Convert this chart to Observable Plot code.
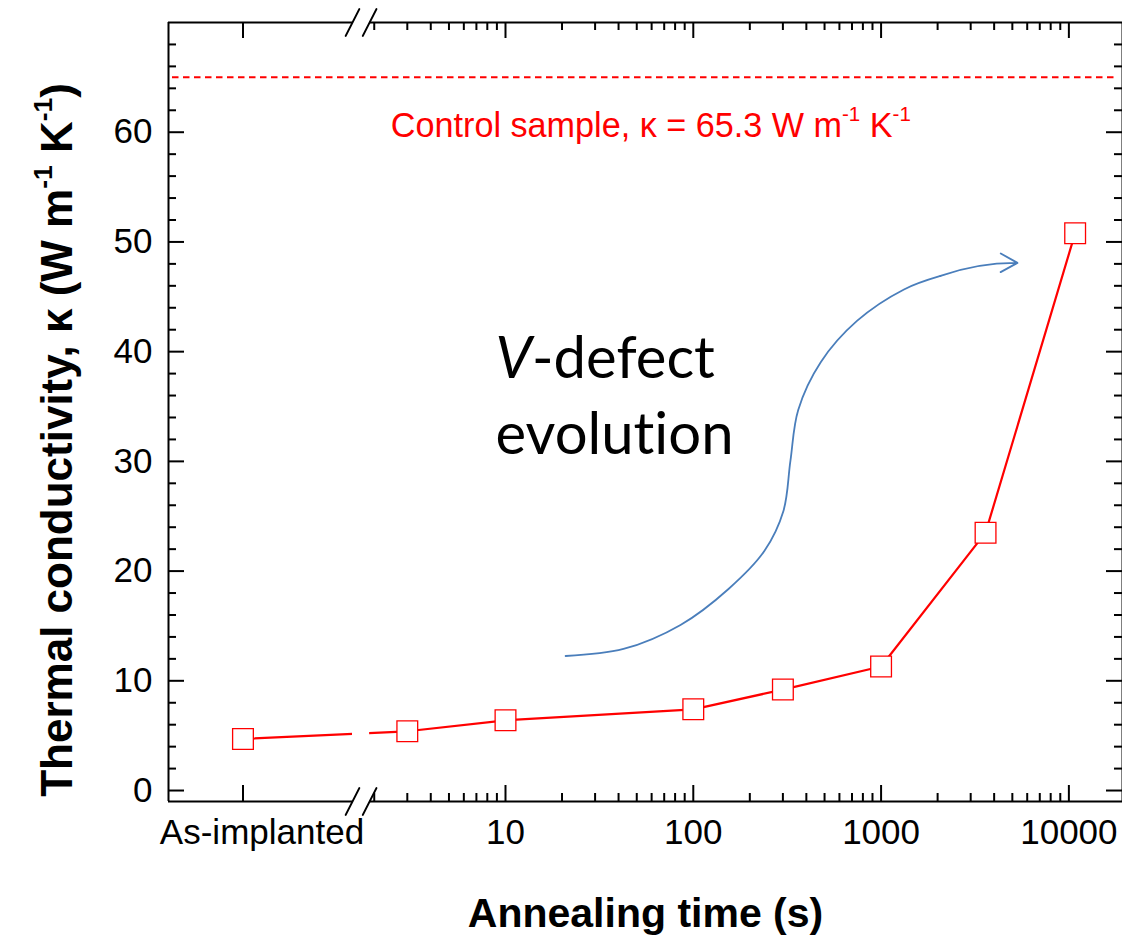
<!DOCTYPE html>
<html><head><meta charset="utf-8">
<script src="https://cdn.jsdelivr.net/npm/d3@7"></script>
<script src="https://cdn.jsdelivr.net/npm/@observablehq/plot@0.6"></script>
<style>html,body{margin:0;padding:0;background:#fff;overflow:hidden} text{font-variant-ligatures:none;font-feature-settings:"liga" 0}</style>
</head><body><div id="chart"></div>
<script>
// ---- data ----
const sampleLabels = ["As-implanted", "3 s", "10 s", "100 s", "300 s", "1000 s", "3600 s", "10800 s"];
const annealTime = [0.4, 3, 10, 100, 300, 1000, 3600, 10800]; // 0.4 = nominal slot for "As-implanted"
const kappa = [4.7, 5.4, 6.4, 7.4, 9.2, 11.3, 23.5, 50.8];
const controlKappa = 65.0;
const controlLabel = "Control sample, κ = 65.3 W m^{-1} K^{-1}";

const xMajorTicks = [0.4, 10, 100, 1000, 10000];
const xTickLabels = ["As-implanted", "10", "100", "1000", "10000"];
const yMajorTicks = [0, 10, 20, 30, 40, 50, 60];
const xDomain = [0.1605, 19300];
const yDomain = [-1, 70];
const axisBreak = [1.532, 1.89];

// guide arrow (hand-drawn annotation path)
const arrowTime = [20.9, 42.5, 85.5, 154, 239, 302, 329, 362, 478, 744, 1324, 2072];
const arrowKappa = [12.26, 12.90, 15.09, 18.37, 21.83, 25.48, 30.04, 34.69, 39.06, 42.80, 45.67, 46.90];
const arrowTip = {t1: 2072, k1: 46.90, t2: 5325, k2: 48.09};

const xTitle = "Annealing time (s)";
const yTitle = "Thermal conductivity, κ (W m^{-1} K^{-1})";

// ---- derived tables ----
const points = annealTime.map((t, i) => ({t, k: kappa[i], label: sampleLabels[i]}));
const xMinorTicks = [];
for (const dec of [1, 10, 100, 1000]) for (let m = 2; m <= 9; m++) xMinorTicks.push(m * dec);
const yMinorTicks = [];
for (let v = 2; v < 70; v += 2) if (v % 10 !== 0) yMinorTicks.push(v);
const arrowPts = arrowTime.map((t, i) => ({t, k: arrowKappa[i]}));
const xLabelRows = xMajorTicks.map((t, i) => ({t, label: xTickLabels[i]}));

const frameH = 936 - 22 - 135, frameW = 1122 - 168;
const majorLen = 16, minorLen = 8;
const spineSegs = [
  {x1: xDomain[0], x2: axisBreak[0], y: yDomain[0]},
  {x1: axisBreak[1], x2: xDomain[1], y: yDomain[0]},
  {x1: xDomain[0], x2: axisBreak[0], y: yDomain[1]},
  {x1: axisBreak[1], x2: xDomain[1], y: yDomain[1]}
];
const slashes = [];
for (const y of yDomain) for (const t of axisBreak) slashes.push({t, y});
const slashShape = {draw(ctx, l) { ctx.moveTo(0, l / 2); ctx.lineTo(0, -l / 2); }};

const red = "#ff0000", blue = "#4a7ebb";
const font = "'Liberation Sans', Arial, Helvetica, sans-serif";

const chart = Plot.plot({
  width: 1122, height: 936,
  marginLeft: 168, marginRight: 0, marginTop: 22, marginBottom: 135,
  x: {type: "log", domain: xDomain, axis: null},
  y: {domain: yDomain, axis: null},
  style: {background: "white", fontFamily: font, overflow: "visible"},
  marks: [
    // control sample
    Plot.ruleY([controlKappa], {y: d => d, stroke: red, strokeWidth: 2, strokeDasharray: "6.5,4.5", insetLeft: 4, insetRight: 6}),
    Plot.text([controlLabel], {x: 2.45, y: 59.6, text: d => d, fill: red, fontSize: 34.2, textAnchor: "start", lineAnchor: "bottom"}),
    // annotation
    Plot.text(["_{V}-defect", "evolution"], {x: 8.85, y: (d, i) => i === 0 ? 37.6 : 30.7, text: d => d, fontFamily: "Lato, 'Open Sans', sans-serif", fontSize: 58, textAnchor: "start", lineAnchor: "bottom", fill: "black"}),
    Plot.line(arrowPts, {x: "t", y: "k", stroke: blue, strokeWidth: 1.8, curve: "catmull-rom"}),
    Plot.arrow([arrowTip], {x1: "t1", y1: "k1", x2: "t2", y2: "k2", stroke: blue, strokeWidth: 1.8, bend: 10, headLength: 16, headAngle: 58}),
    // data
    Plot.line(points, {x: "t", y: "k", stroke: red, strokeWidth: 2.2}),
    Plot.rect([0], {x1: axisBreak[0], x2: axisBreak[1], y1: 3.5, y2: 6.5, fill: "white"}),
    Plot.dot(points, {x: "t", y: "k", symbol: "square", r: 11.7, fill: "white", stroke: red, strokeWidth: 1.3}),
    // frame
    Plot.ruleY(spineSegs, {x1: "x1", x2: "x2", y: "y", stroke: "black", strokeWidth: 2}),
    Plot.ruleX([xDomain[0], xDomain[1]], {x: d => d, stroke: "black", strokeWidth: 2}),
    Plot.vector(slashes, {x: "t", y: "y", length: 30, rotate: 27, anchor: "start", shape: slashShape, stroke: "black", strokeWidth: 2}),
    // ticks (inward, all four sides)
    Plot.tickX(xMajorTicks, {x: d => d, insetTop: frameH - majorLen, stroke: "black", strokeWidth: 2}),
    Plot.tickX(xMajorTicks, {x: d => d, insetBottom: frameH - majorLen, stroke: "black", strokeWidth: 2}),
    Plot.tickX(xMinorTicks, {x: d => d, insetTop: frameH - minorLen, stroke: "black", strokeWidth: 2}),
    Plot.tickX(xMinorTicks, {x: d => d, insetBottom: frameH - minorLen, stroke: "black", strokeWidth: 2}),
    Plot.tickY(yMajorTicks, {y: d => d, insetRight: frameW - majorLen, stroke: "black", strokeWidth: 2}),
    Plot.tickY(yMajorTicks, {y: d => d, insetLeft: frameW - majorLen, stroke: "black", strokeWidth: 2}),
    Plot.tickY(yMinorTicks, {y: d => d, insetRight: frameW - minorLen, stroke: "black", strokeWidth: 2}),
    Plot.tickY(yMinorTicks, {y: d => d, insetLeft: frameW - minorLen, stroke: "black", strokeWidth: 2}),
    // tick labels
    Plot.text(xLabelRows.slice(0, 1), {x: "t", text: "label", frameAnchor: "bottom", dx: 19, dy: 42, lineAnchor: "bottom", fontSize: 35, fill: "black"}),
    Plot.text(xLabelRows.slice(1), {x: "t", text: "label", frameAnchor: "bottom", dy: 42, lineAnchor: "bottom", fontSize: 35, fill: "black"}),
    Plot.text(yMajorTicks, {y: d => d, text: d => String(d), frameAnchor: "left", dx: -16, textAnchor: "end", fontSize: 35, fill: "black"}),
    // titles
    Plot.text([xTitle], {text: d => d, frameAnchor: "bottom", dy: 125, lineAnchor: "bottom", fontSize: 41, fontWeight: "bold", fill: "black"}),
    Plot.text([yTitle], {text: d => d, frameAnchor: "left", textAnchor: "middle", rotate: -90, dx: -97, dy: 28, lineAnchor: "bottom", fontSize: 44, fontWeight: "bold", fill: "black"})
  ]
});

// rich text: ^{..} superscript, _{..} italic
function richify(svg) {
  svg.querySelectorAll("text").forEach(t => {
    const s = t.textContent;
    if (!/[\^_]\{/.test(s)) return;
    const parts = s.split(/(\^\{[^}]*\}|_\{[^}]*\})/).filter(p => p.length);
    t.textContent = "";
    let raised = false;
    for (const p of parts) {
      const ts = document.createElementNS("http://www.w3.org/2000/svg", "tspan");
      if (p.startsWith("^{")) {
        ts.textContent = p.slice(2, -1);
        ts.setAttribute("style", "font-size:0.6em");
        ts.setAttribute("dy", "-0.75em");
        raised = true;
      } else if (p.startsWith("_{")) {
        ts.textContent = p.slice(2, -1);
        ts.setAttribute("font-style", "italic");
        if (raised) { ts.setAttribute("dy", "0.45em"); raised = false; }
      } else {
        ts.textContent = p;
        if (raised) { ts.setAttribute("dy", "0.45em"); raised = false; }
      }
      t.appendChild(ts);
    }
  });
}
richify(chart);
document.getElementById("chart").appendChild(chart);
</script></body></html>
